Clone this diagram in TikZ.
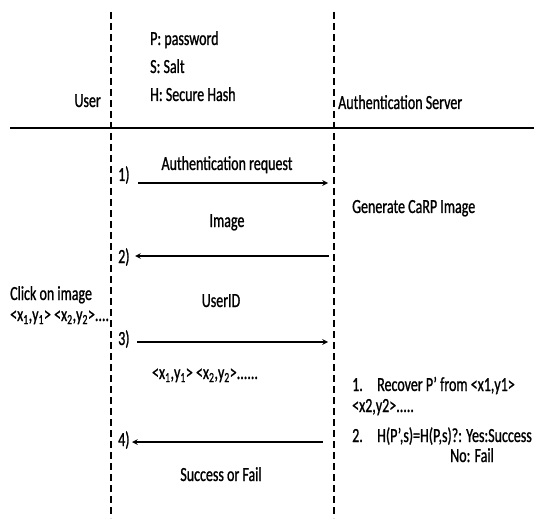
\documentclass[tikz,border=0pt]{standalone}
\usepackage{fontspec}
\setmainfont{Carlito}[FakeStretch=0.7,FakeBold=1]
\usetikzlibrary{positioning}
\tikzset{%
  lifeline/.style={
    line width=1.4pt,
    dash pattern=on 7pt off 4pt
  },
  message/.style={
    ->,
    line width=1.5pt
  },
  txt/.style={
    font=\fontsize{20}{24}\selectfont,
    inner sep=0pt
  },
}
\newcommand{\clickpt}[1]{<x\textsubscript{#1},y\textsubscript{#1}>}

\begin{document}
\begin{tikzpicture}[> = stealth, x=1pt, y=-1pt]
\useasboundingbox (0,0) rectangle (534,518);
% lifelines and header rule
\coordinate (user top) at (111,12);
\coordinate (user bottom) at (111,518);
\coordinate (server top) at (334,12);
\coordinate (server bottom) at (334,518);
\coordinate (rule left) at (10,128);
\coordinate (rule right) at (534,128);
\draw[lifeline] (user top) -- (user bottom);
\draw[lifeline] (server top) -- (server bottom);
\draw[line width=2.6pt] (rule left) -- (rule right);

% header
\node[txt, anchor=base east] (user) at (101,107) {User};
\node[txt, anchor=base west] (pwd) at (150,45) {P: password};
\node[txt, anchor=base west] (salt) at (150,73) {S: Salt};
\node[txt, anchor=base west] (hash) at (150,101) {H: Secure Hash};
\node[txt, anchor=base west] (server) at (338,109) {Authentication Server};

% 1) request
\coordinate (u1) at (138,183);
\coordinate (s1) at (328,183);
\node[txt, anchor=base west] (n1) at (118,181) {1)};
\draw[message] (u1) -- (s1);
\node[txt, anchor=base] (req) at (227,170) {Authentication request};
\node[txt, anchor=base west] (gen) at (352,213) {Generate CaRP Image};

% 2) image
\coordinate (s2) at (329,256);
\coordinate (u2) at (135,256);
\node[txt, anchor=base west] (n2) at (118,263) {2)};
\draw[message] (s2) -- (u2);
\node[txt, anchor=base] (img) at (227,227) {Image};

% user clicks
\node[txt, anchor=base west] (click) at (10,300) {Click on image};
\node[txt, anchor=base west] (clickxy) at (10,321) {\clickpt{1} \clickpt{2}....};

% 3) user id and points
\coordinate (u3) at (137,342);
\coordinate (s3) at (328,342);
\node[txt, anchor=base west] (n3) at (118,345) {3)};
\draw[message] (u3) -- (s3);
\node[txt, anchor=base] (uid) at (221,307) {UserID};
\node[txt, anchor=base] (pts) at (205,379) {\clickpt{1} \clickpt{2}......};

% server checks
\node[txt, anchor=base west] (c1) at (352,391) {1.};
\node[txt, anchor=base west] (rec) at (377,391) {Recover P’ from <x1,y1>};
\node[txt, anchor=base west] (rec2) at (352,412) {<x2,y2>.....};
\node[txt, anchor=base west] (c2) at (352,442) {2.};
\node[txt, anchor=base west] (cmp) at (377,442) {H(P’,s)=H(P,s)?: Yes:Success};
\node[txt, anchor=base west] (fail) at (450,462) {No: Fail};

% 4) result
\coordinate (s4) at (323,442);
\coordinate (u4) at (132,442);
\node[txt, anchor=base west] (n4) at (118,446) {4)};
\draw[message] (s4) -- (u4);
\node[txt, anchor=base] (res) at (221,481) {Success or Fail};
\end{tikzpicture}
\end{document}
